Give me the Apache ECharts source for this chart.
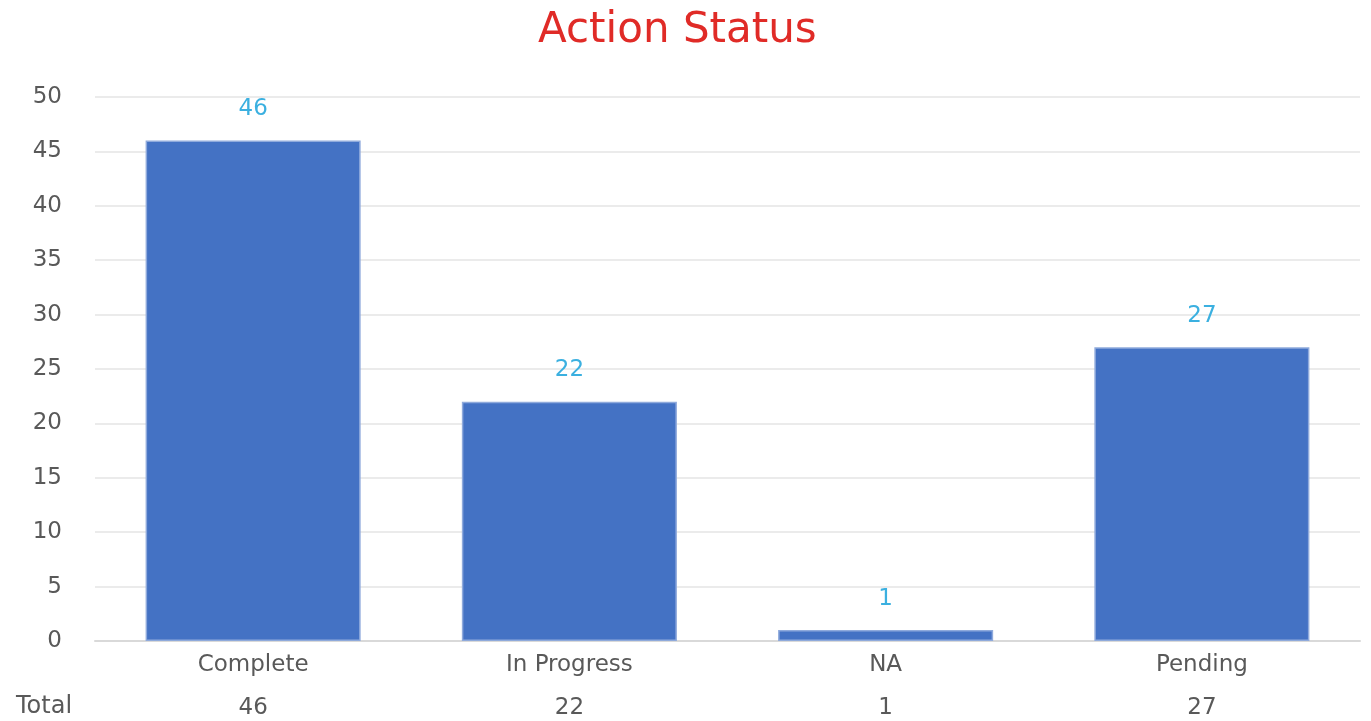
<!DOCTYPE html>
<html>
<head>
<meta charset="utf-8">
<script src="https://cdn.jsdelivr.net/npm/echarts@6/dist/echarts.min.js"></script>
<style>
  html, body { margin: 0; padding: 0; background: #fff; }
  #chart { width: 1371px; height: 721px; }
</style>
</head>
<body>
<div id="chart"></div>
<script>
// data
const categories = ['Complete', 'In Progress', 'NA', 'Pending'];
const counts = [46, 22, 1, 27];
const totals = [46, 22, 1, 27];

const font = '"DejaVu Sans", sans-serif';
const chart = echarts.init(document.getElementById('chart'));

chart.setOption({
  animation: false,
  title: {
    text: 'Action Status',
    left: 533,
    top: 5,
    textStyle: { color: '#E02B27', fontSize: 42, fontWeight: 'normal', fontFamily: font }
  },
  grid: { left: 95, right: 11, top: 97, bottom: 80 },
  graphic: [{
    type: 'text',
    left: 16,
    top: 695,
    style: { text: 'Total', fill: '#595959', fontSize: 24, fontFamily: font }
  }],
  xAxis: [
    {
      type: 'category',
      data: categories,
      position: 'bottom',
      axisLine: { lineStyle: { color: '#D9D9D9', width: 2 } },
      axisTick: { show: false },
      axisLabel: { color: '#595959', fontSize: 23, margin: 13, fontFamily: font }
    },
    {
      type: 'category',
      data: totals,
      position: 'bottom',
      offset: 44,
      axisLine: { show: false },
      axisTick: { show: false },
      axisLabel: { color: '#595959', fontSize: 23, margin: 12, fontFamily: font }
    }
  ],
  yAxis: {
    type: 'value',
    min: 0,
    max: 50,
    interval: 5,
    axisLine: { show: false },
    axisTick: { show: false },
    splitLine: { lineStyle: { color: '#EBEBEB', width: 2 } },
    axisLabel: { color: '#595959', fontSize: 23, margin: 33, fontFamily: font }
  },
  series: [{
    type: 'bar',
    data: counts,
    barWidth: '68%',
    itemStyle: { color: '#4472C4', borderColor: '#8FAADC', borderWidth: 1.5 },
    label: {
      show: true,
      position: 'top',
      distance: 20,
      color: '#3BB0E0',
      fontSize: 23,
      fontFamily: font
    }
  }]
});
</script>
</body>
</html>
